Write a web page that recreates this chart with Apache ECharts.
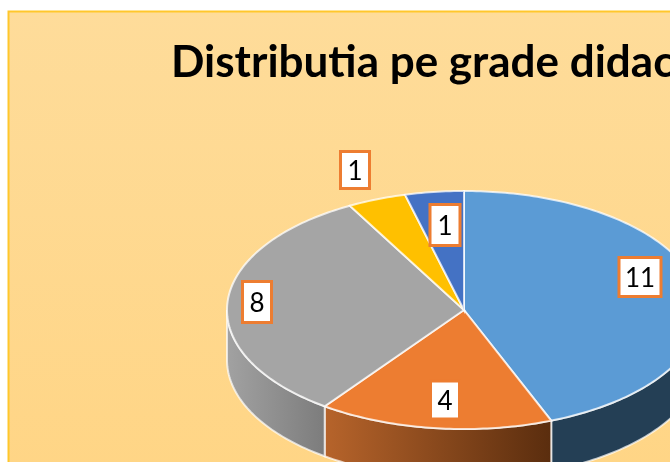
<!DOCTYPE html>
<html>
<head>
<meta charset="utf-8">
<style>
  html, body { margin: 0; padding: 0; background: #fff; }
  #chart { width: 670px; height: 462px; }
</style>
<script src="https://cdn.jsdelivr.net/npm/echarts@6/dist/echarts.min.js"></script>
</head>
<body>
<div id="chart"></div>
<script>
const titleText = 'Distributia pe grade didactice';
const sliceValues = [11, 4, 8, 1, 1];
const sliceLabels = ['11', '4', '8', '1', '1'];

const topColors = ['#5B9BD5', '#ED7D31', '#A5A5A5', '#FFC000', '#4472C4'];
const sideColors = [
  ['#243F55', '#243F55'],
  ['#B7642B', '#5A2D0E'],
  ['#A2A2A2', '#7C7C7C'],
  ['#997300', '#997300'],
  ['#29447A', '#29447A'],
];
// label box centres, picked by eye from the reference
const labelCenters = [[640, 277], [445, 400], [257, 302], [355, 170], [445, 225]];
const labelSizes = [[42, 39], [29, 38], [29, 41], [29, 37], [30, 41]];

const cx = 464, cy = 310, rx = 237, ry = 119, depth = 50;

const total = sliceValues.reduce((a, b) => a + b, 0);
let running = 0;
const sliceAngles = sliceValues.map((v) => {
  const start = (running / total) * 360;
  running += v;
  return [start, (running / total) * 360];
});

function rimPoint(deg, dy) {
  const r = (deg * Math.PI) / 180;
  return [cx + rx * Math.sin(r), cy - ry * Math.cos(r) + dy];
}

function arcPoints(from, to, dy) {
  const pts = [];
  for (let a = from; a < to; a += 1) pts.push(rimPoint(a, dy));
  pts.push(rimPoint(to, dy));
  return pts;
}

function renderSlice(params) {
  const i = params.dataIndex;
  const [start, end] = sliceAngles[i];
  const children = [];

  // the wall only shows on the front half of the disc
  const from = Math.max(start, 90);
  const to = Math.min(end, 270);
  if (from < to) {
    const wall = arcPoints(from, to, 0).concat(arcPoints(from, to, depth).reverse());
    children.push({
      type: 'polygon',
      shape: { points: wall },
      style: {
        fill: new echarts.graphic.LinearGradient(0, 0, 1, 0, [
          { offset: 0, color: sideColors[i][0] },
          { offset: 1, color: sideColors[i][1] },
        ]),
        stroke: 'rgba(255,255,255,0.7)',
        lineWidth: 2,
      },
    });
  }

  children.push({
    type: 'polygon',
    shape: { points: [[cx, cy]].concat(arcPoints(start, end, 0)) },
    style: { fill: topColors[i], stroke: 'rgba(255,255,255,0.75)', lineWidth: 2 },
    z2: 5,
  });

  const [lx, ly] = labelCenters[i];
  const [lw, lh] = labelSizes[i];
  children.push({
    type: 'rect',
    shape: { x: lx - lw / 2, y: ly - lh / 2, width: lw, height: lh },
    style: { fill: '#fff', stroke: '#ED7D31', lineWidth: 3 },
    z2: 10,
  });
  children.push({
    type: 'text',
    style: {
      x: lx,
      y: ly + 2,
      text: sliceLabels[i],
      align: 'center',
      verticalAlign: 'middle',
      fill: '#000',
      font: '26px Lato',
    },
    z2: 11,
  });
  return { type: 'group', children };
}

const chart = echarts.init(document.getElementById('chart'));
chart.setOption({
  animation: false,
  backgroundColor: '#fff',
  title: {
    text: titleText,
    left: 171,
    top: 41,
    padding: 0,
    textStyle: { fontFamily: 'Lato', fontWeight: 'bold', fontSize: 44, color: '#000' },
  },
  graphic: [
    {
      type: 'rect',
      z: -10,
      shape: { x: 8.5, y: 11.5, width: 680, height: 470 },
      style: {
        fill: new echarts.graphic.LinearGradient(0, 0, 0, 1, [
          { offset: 0, color: '#FEDC9A' },
          { offset: 1, color: '#FFD585' },
        ]),
        stroke: '#FFC72C',
        lineWidth: 2,
      },
    },
  ],
  series: [
    {
      type: 'custom',
      coordinateSystem: 'none',
      data: sliceValues,
      renderItem: renderSlice,
      silent: true,
    },
  ],
});
</script>
</body>
</html>
